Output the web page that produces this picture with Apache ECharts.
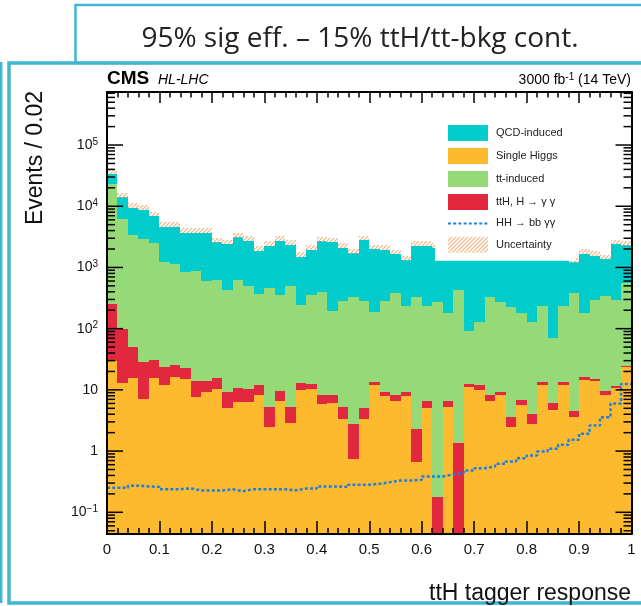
<!DOCTYPE html>
<html><head><meta charset="utf-8">
<script src="https://cdn.jsdelivr.net/npm/echarts@6/dist/echarts.min.js"></script>
<style>html,body{margin:0;padding:0;background:#fff}#c{width:641px;height:606px}</style>
</head><body><div id="c"></div>
<script>
// ---- data (50 bins of width 0.02 on the ttH tagger response) ----
const nBins = 50;
const binWidth = 0.02;
const singleHiggs = [30, 12.8, 15.5, 7.1, 15.5, 12, 16, 15.1, 7.6, 9.4, 10.4, 5.1, 6.4, 6.4, 8.4, 2.45, 6.7, 2.85, 10, 10.5, 5.8, 6.1, 3.4, 0.75, 3.37, 11.8, 7.9, 6.7, 7.9, 0.66, 5.1, 0, 5.2, 0, 11, 10.1, 6.5, 8.1, 2.45, 5.75, 2.72, 12.2, 4.75, 12.2, 3.57, 14.7, 13.8, 8.3, 10.8, 24];
const ttH = [223, 86, 34, 21, 15.3, 11.4, 9.2, 7.7, 6.2, 4.8, 5.3, 4.0, 4.4, 4.0, 3.8, 2.85, 3.0, 2.35, 2.8, 2.0, 2.3, 2.3, 1.9, 2.04, 1.73, 1.5, 1.5, 1.4, 1.2, 1.65, 1.4, 0.177, 1.3, 1.35, 1.5, 1.7, 1.6, 1.0, 1.22, 1.15, 1.24, 1.1, 1.3, 1.1, 1.03, 1.3, 1.3, 1.2, 0.9, 0.5];
const ttInduced = [22650, 6050, 3400, 2940, 2470, 1184, 1110, 806, 869, 593, 607, 419, 612, 493, 356, 449, 349, 498, 233, 342, 383, 183, 281, 325, 281, 177, 277, 378, 222, 327, 224, 276, 171, 427, 77.5, 117, 321, 267, 219, 171, 125, 221, 64.5, 221, 372, 166, 275, 331, 282, 523];
const qcdInduced = [10500, 7750, 6080, 5760, 4390, 3400, 3475, 2890, 2840, 3110, 1940, 1980, 2470, 2230, 1500, 1810, 2370, 1850, 1250, 1585, 2270, 2410, 1815, 1370, 2515, 1810, 1665, 1265, 1070, 1950, 2050, 1824, 1622, 1872, 1510, 1771, 1871, 1724, 1477, 1722, 1671, 1866, 1430, 1466, 833, 1508, 1260, 1029, 2106, 1752];
const hhBbgg = [0.252, 0.252, 0.272, 0.265, 0.259, 0.239, 0.239, 0.245, 0.228, 0.228, 0.228, 0.237, 0.222, 0.237, 0.237, 0.237, 0.237, 0.228, 0.245, 0.245, 0.265, 0.265, 0.259, 0.282, 0.282, 0.292, 0.311, 0.331, 0.331, 0.339, 0.385, 0.385, 0.415, 0.436, 0.483, 0.526, 0.561, 0.62, 0.676, 0.766, 0.847, 0.985, 1.09, 1.27, 1.53, 1.92, 2.62, 3.57, 6.0, 12.5];
const uncDown = 0.99, uncUp = 1.18; // relative size of the hatched band around the total
const yMajorTicks = [0.1, 1, 10, 100, 1000, 10000, 100000];
const yTickLabels = ['{b|10}{s|\u22121}', '{b|1}', '{b|10}', '{b|10}{s|2}', '{b|10}{s|3}', '{b|10}{s|4}', '{b|10}{s|5}'];
const seriesNames = ['QCD-induced', 'Single Higgs', 'tt-induced', 'ttH, H \u2192 \u03b3 \u03b3', 'HH \u2192 bb \u03b3\u03b3', 'Uncertainty'];

// ---- config ----
const Y_MIN = 0.0442, Y_MAX = 7.35e5;
const FONT = '"Liberation Sans", Arial, Helvetica, sans-serif';
const COL = { qcd: '#02cbcb', sh: '#fdba2f', tt: '#96d977', tth: '#e2283f', hh: '#1f7fe0', frame: '#40b7d2' };

// hatch pattern
const hc = document.createElement('canvas'); hc.width = 4; hc.height = 4;
const g = hc.getContext('2d'); g.strokeStyle = '#e9b27c'; g.lineWidth = 1.1;
g.beginPath(); g.moveTo(0, 4); g.lineTo(4, 0); g.moveTo(-1, 1); g.lineTo(1, -1); g.moveTo(3, 5); g.lineTo(5, 3); g.stroke();
const hatch = { image: hc, repeat: 'repeat' };

// stacking (bottom → top): Single Higgs, ttH, tt-induced, QCD-induced
const base = new Array(nBins).fill(0);
function stackLayer(arr) {
  return arr.map(function (v, i) {
    const lo = base[i], hi = lo + v; base[i] = hi;
    return [i * binWidth, (i + 1) * binWidth, Math.max(lo, Y_MIN), hi];
  });
}
const shData = stackLayer(singleHiggs);
const tthData = stackLayer(ttH);
const ttData = stackLayer(ttInduced);
const qcdData = stackLayer(qcdInduced);
const uncData = base.map(function (t, i) { return [i * binWidth, (i + 1) * binWidth, t * uncDown, t * uncUp]; });
const hhData = hhBbgg.map(function (v, i) { return [i * binWidth, v]; }).concat([[nBins * binWidth, hhBbgg[nBins - 1]]]);

const yTickData = [];
yMajorTicks.forEach(function (v) { yTickData.push([0.5, v, 1]); });
for (let e = -2; e <= 5; e++) for (let k = 2; k <= 9; k++) {
  const v = k * Math.pow(10, e);
  if (v > Y_MIN && v < Y_MAX) yTickData.push([0.5, v, 0]);
}

function rectItem(fillOverride) {
  return function (params, api) {
    const x0 = api.value(0), x1 = api.value(1), lo = api.value(2), hi = api.value(3);
    if (!(hi > lo) || hi <= Y_MIN) return null;
    const p0 = api.coord([x0, hi]);
    const p1 = api.coord([x1, lo]);
    const X = Math.round(p0[0]), Y = Math.round(p0[1]);
    return {
      type: 'rect',
      shape: { x: X, y: Y, width: Math.round(p1[0]) - X, height: Math.round(p1[1]) - Y },
      style: { fill: fillOverride || api.visual('color') }
    };
  };
}
function histSeries(name, data, color, fillOverride, z) {
  return {
    type: 'custom', name: name, data: data, clip: true, z: z || 2,
    encode: { x: [0, 1], y: [2, 3] },
    itemStyle: { color: color },
    renderItem: rectItem(fillOverride)
  };
}

const chart = echarts.init(document.getElementById('c'), null, { renderer: 'canvas' });
const axisLineStyle = { color: '#000', width: 2 };
const tickStyle = { color: '#000', width: 1.5 };
chart.setOption({
  animation: false,
  grid: { left: 107, top: 92, width: 524.5, height: 442, containLabel: false },
  xAxis: [{
    type: 'value', min: 0, max: 1, interval: 0.1, position: 'bottom', z: 10,
    axisLine: { show: true, onZero: false, lineStyle: axisLineStyle },
    axisTick: { show: true, inside: true, length: 13, lineStyle: tickStyle },
    minorTick: { show: true, splitNumber: 5, length: 6, lineStyle: tickStyle },
    axisLabel: { fontFamily: FONT, fontSize: 15, color: '#111', margin: 8 },
    splitLine: { show: false }, minorSplitLine: { show: false }
  }, {
    type: 'value', min: 0, max: 1, interval: 0.1, position: 'top', z: 10,
    axisLine: { show: true, onZero: false, lineStyle: axisLineStyle },
    axisTick: { show: true, inside: true, length: 11, lineStyle: tickStyle },
    minorTick: { show: true, splitNumber: 5, length: 5.5, lineStyle: tickStyle },
    axisLabel: { show: false },
    splitLine: { show: false }, minorSplitLine: { show: false }
  }],
  yAxis: [{
    type: 'log', logBase: 10, min: Y_MIN, max: Y_MAX, position: 'left', z: 10,
    axisLine: { show: true, onZero: false, lineStyle: axisLineStyle },
    axisTick: { show: false }, splitLine: { show: false },
    axisLabel: {
      showMinLabel: false, showMaxLabel: false, margin: 9,
      fontFamily: FONT, fontSize: 14, color: '#111',
      formatter: function (v) {
        const l = Math.log10(v), e = Math.round(l);
        if (Math.abs(l - e) > 1e-6) return '';
        const idx = yMajorTicks.findIndex(function (t) { return Math.abs(Math.log10(t) - e) < 1e-6; });
        return idx >= 0 ? yTickLabels[idx] : '';
      },
      rich: {
        b: { fontFamily: FONT, fontSize: 14, lineHeight: 16, color: '#111' },
        s: { fontFamily: FONT, fontSize: 10, lineHeight: 10, verticalAlign: 'top', color: '#111' }
      }
    }
  }, {
    type: 'log', logBase: 10, min: Y_MIN, max: Y_MAX, position: 'right', z: 10,
    axisLine: { show: true, onZero: false, lineStyle: axisLineStyle },
    axisTick: { show: false }, axisLabel: { show: false }, splitLine: { show: false }
  }],
  legend: {
    left: 435, top: 113, orient: 'vertical', backgroundColor: '#fff',
    padding: [12, 13, 8, 12], itemWidth: 40, itemHeight: 16, itemGap: 7, selectedMode: false,
    textStyle: { fontFamily: FONT, fontSize: 11, color: '#222', padding: [0, 0, 0, 3] },
    data: [
      { name: seriesNames[0], icon: 'rect' },
      { name: seriesNames[1], icon: 'rect' },
      { name: seriesNames[2], icon: 'rect' },
      { name: seriesNames[3], icon: 'rect' },
      { name: seriesNames[4], itemStyle: { opacity: 0 } },
      { name: seriesNames[5], icon: 'rect' }
    ]
  },
  series: [
    histSeries(seriesNames[1], shData, COL.sh),
    histSeries(seriesNames[3], tthData, COL.tth),
    histSeries(seriesNames[2], ttData, COL.tt),
    histSeries(seriesNames[0], qcdData, COL.qcd),
    histSeries(seriesNames[5], uncData, hatch, hatch, 3),
    {
      type: 'line', name: seriesNames[4], data: hhData, step: 'end', symbol: 'none', z: 5, clip: true,
      lineStyle: { color: COL.hh, width: 2.5, type: [3, 2.2] }, itemStyle: { color: COL.hh }
    },
    {
      type: 'custom', name: 'yticks', data: yTickData, silent: true, z: 12, clip: false,
      encode: { x: 0, y: 1 },
      renderItem: function (params, api) {
        const cs = params.coordSys;
        const y = api.coord([api.value(0), api.value(1)])[1];
        const major = api.value(2) === 1;
        const L = major ? 16 : 8;
        return {
          type: 'group', children: [
            { type: 'line', shape: { x1: cs.x, y1: y, x2: cs.x + L, y2: y }, style: { stroke: '#000', lineWidth: 1.5 } },
            { type: 'line', shape: { x1: cs.x + cs.width - L, y1: y, x2: cs.x + cs.width, y2: y }, style: { stroke: '#000', lineWidth: 1.5 } }
          ]
        };
      }
    }
  ],
  graphic: [
    { type: 'rect', z: 20, silent: true, shape: { x: 75.5, y: 5, width: 700, height: 58 }, style: { fill: 'none', stroke: COL.frame, lineWidth: 2.5 } },
    { type: 'rect', z: 20, silent: true, shape: { x: 9, y: 63, width: 700, height: 540 }, style: { fill: 'none', stroke: COL.frame, lineWidth: 3.5 } },
    { type: 'line', z: 20, silent: true, shape: { x1: 1.2, y1: 62, x2: 1.2, y2: 603 }, style: { stroke: COL.frame, lineWidth: 2.5 } },
    { type: 'text', z: 20, silent: true, x: 360, y: 39, style: { text: '95% sig eff. \u2013 15% ttH/tt-bkg cont.', font: '28px "Open Sans", sans-serif', fill: '#222', align: 'center', verticalAlign: 'middle' } },
    { type: 'text', z: 20, silent: true, x: 107, y: 79, style: { text: 'CMS', font: 'bold 19px ' + FONT, fill: '#000', align: 'left', verticalAlign: 'middle' } },
    { type: 'text', z: 20, silent: true, x: 158, y: 80.5, style: { text: 'HL-LHC', font: 'italic 14px ' + FONT, fill: '#000', align: 'left', verticalAlign: 'middle' } },
    { type: 'text', z: 20, silent: true, x: 631, y: 80, style: {
        text: '{b|3000 fb}{s|-1}{b| (14 TeV)}', align: 'right', verticalAlign: 'middle',
        rich: { b: { font: '14px ' + FONT, lineHeight: 16, fill: '#000' }, s: { font: '10px ' + FONT, lineHeight: 10, verticalAlign: 'top', fill: '#000' } } } },
    { type: 'text', z: 20, silent: true, x: 36, y: 158, rotation: Math.PI / 2, style: { text: 'Events / 0.02', font: '23px ' + FONT, fill: '#111', align: 'center', verticalAlign: 'middle' } },
    { type: 'text', z: 20, silent: true, x: 631, y: 594, style: { text: 'ttH tagger response', font: '23px ' + FONT, fill: '#111', align: 'right', verticalAlign: 'middle' } }
  ]
});
</script>
</body></html>
